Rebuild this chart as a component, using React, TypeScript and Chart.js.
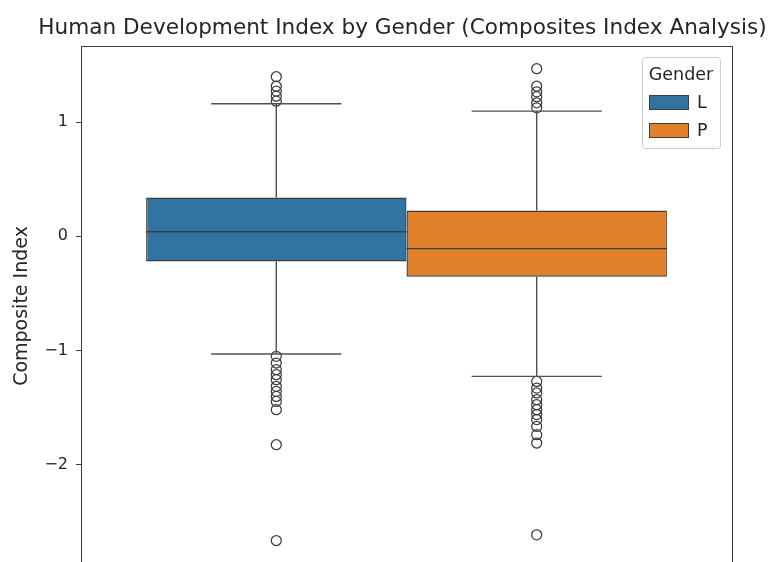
import React, { useEffect, useRef } from 'react';
import { Chart, registerables } from 'chart.js';

Chart.register(...registerables);

// ---- data ----
const chartTitle = 'Human Development Index by Gender (Composites Index Analysis)';
const yAxisLabel = 'Composite Index';
const legendTitle = 'Gender';
const genders = ['L', 'P'];
const boxColors = ['#3274a1', '#e1812c'];
const q1 = [-0.22, -0.353];
const median = [0.04, -0.108];
const q3 = [0.339, 0.225];
const whiskerLow = [-1.03, -1.226];
const whiskerHigh = [1.16, 1.095];
const outliersL = [1.396, 1.313, 1.27, 1.226, 1.182, -1.05, -1.109, -1.167, -1.211, -1.255, -1.313, -1.357, -1.401, -1.445, -1.517, -1.824, -2.662];
const outliersP = [1.466, 1.313, 1.264, 1.221, 1.168, 1.124, -1.27, -1.328, -1.371, -1.43, -1.474, -1.517, -1.56, -1.604, -1.664, -1.736, -1.809, -2.612];
const outliers = [outliersL, outliersP];
const yTicks = [-2, -1, 0, 1];
const yMin = -2.885;
const yMax = 1.665;

const FONT = 'DejaVu Sans';
const LINE = '#3d3d3d';
const TEXT = '#262626';

const fmt = (v: number) => (v < 0 ? '\u2212' + Math.abs(v) : String(v));

const overlay = {
  id: 'overlay',
  afterDraw(chart: any) {
    const { ctx, chartArea: a } = chart;
    ctx.save();
    // spines
    ctx.strokeStyle = LINE;
    ctx.lineWidth = 1;
    ctx.strokeRect(Math.round(a.left) + 0.5, Math.round(a.top) + 0.5, Math.round(a.right - a.left), Math.round(a.bottom - a.top));
    // title
    ctx.fillStyle = TEXT;
    ctx.font = `21.6px "${FONT}"`;
    ctx.textAlign = 'center';
    ctx.textBaseline = 'alphabetic';
    ctx.fillText(chartTitle, (a.left + a.right) / 2 - 4, 33.5);
    // legend
    const right = a.right - 12;
    const top = a.top + 11;
    const w = 78;
    const h = 91;
    const left = right - w;
    ctx.beginPath();
    ctx.roundRect(left + 0.5, top + 0.5, w, h, 3);
    ctx.fillStyle = 'rgba(255,255,255,0.8)';
    ctx.fill();
    ctx.strokeStyle = '#cccccc';
    ctx.lineWidth = 1;
    ctx.stroke();
    ctx.fillStyle = TEXT;
    ctx.font = `17.5px "${FONT}"`;
    ctx.textAlign = 'center';
    ctx.fillText(legendTitle, left + w / 2, top + 22.5);
    genders.forEach((g, i) => {
      const py = top + 38 + i * 28;
      ctx.fillStyle = boxColors[i];
      ctx.fillRect(left + 7, py, 40, 15);
      ctx.strokeStyle = LINE;
      ctx.lineWidth = 1;
      ctx.strokeRect(left + 7.5, py + 0.5, 39, 14);
      ctx.fillStyle = TEXT;
      ctx.textAlign = 'left';
      ctx.textBaseline = 'middle';
      ctx.fillText(g, left + 55, py + 8);
      ctx.textBaseline = 'alphabetic';
    });
    ctx.restore();
  },
};

export default function App() {
  const ref = useRef<HTMLCanvasElement | null>(null);
  useEffect(() => {
    document.body.style.margin = '0';
    document.body.style.overflow = 'hidden';
    Chart.defaults.font.family = FONT;
    const datasets: any[] = [];
    genders.forEach((g, i) => {
      const c = -0.2 + i * 0.4;
      datasets.push({
        type: 'line',
        label: g + ' median',
        xAxisID: 'x2',
        data: [
          { x: c - 0.2, y: median[i] },
          { x: c + 0.2, y: median[i] },
        ],
        borderColor: LINE,
        borderWidth: 1.4,
        pointRadius: 0,
        fill: false,
        order: 0,
      });
      datasets.push({
        type: 'line',
        label: g + ' whiskers',
        xAxisID: 'x2',
        data: [
          { x: c, y: q3[i] }, { x: c, y: whiskerHigh[i] }, { x: c, y: null },
          { x: c, y: q1[i] }, { x: c, y: whiskerLow[i] }, { x: c, y: null },
          { x: c - 0.1, y: whiskerHigh[i] }, { x: c + 0.1, y: whiskerHigh[i] }, { x: c, y: null },
          { x: c - 0.1, y: whiskerLow[i] }, { x: c + 0.1, y: whiskerLow[i] },
        ],
        borderColor: '#505050',
        borderWidth: 1.4,
        pointRadius: 0,
        fill: false,
        spanGaps: false,
        order: 1,
      });
      datasets.push({
        type: 'scatter',
        label: g + ' outliers',
        xAxisID: 'x2',
        data: outliers[i].map((v) => ({ x: c, y: v })),
        pointRadius: 5,
        pointBorderWidth: 1.25,
        pointBackgroundColor: 'rgba(0,0,0,0)',
        pointBorderColor: LINE,
        order: 1,
      });
    });
    genders.forEach((g, i) => {
      datasets.push({
        type: 'bar',
        label: g,
        xAxisID: 'x',
        data: [[q1[i], q3[i]]],
        backgroundColor: boxColors[i],
        borderColor: LINE,
        borderWidth: 1.4,
        borderSkipped: false,
        // a single category gives a ruler of half the axis width, so 0.8 of the axis = 1.6 here
        categoryPercentage: 1.6,
        barPercentage: 1.0,
        order: 2,
      });
    });

    const chart = new Chart(ref.current as HTMLCanvasElement, {
      type: 'bar',
      data: { labels: [''], datasets },
      options: {
        animation: false,
        responsive: false,
        devicePixelRatio: 1,
        events: [],
        layout: { padding: { left: 0, right: 44, top: 46, bottom: 34 } },
        plugins: { legend: { display: false }, tooltip: { enabled: false }, title: { display: false } },
        scales: {
          x: { type: 'category', display: false, offset: true },
          x2: { type: 'linear', axis: 'x', display: false, offset: false, min: -0.5, max: 0.5 },
          y: {
            type: 'linear',
            min: yMin,
            max: yMax,
            afterBuildTicks: (s: any) => {
              s.ticks = yTicks.map((v) => ({ value: v }));
            },
            afterFit: (s: any) => {
              s.width = 81;
            },
            ticks: {
              font: { family: FONT, size: 16 },
              color: TEXT,
              padding: 8,
              callback: (v: any) => fmt(Number(v)),
            },
            grid: { drawOnChartArea: false, drawTicks: true, tickLength: 5, tickColor: LINE, tickWidth: 1 },
            border: { display: true, color: LINE, width: 1 },
            title: {
              display: true,
              text: yAxisLabel,
              font: { family: FONT, size: 19 },
              color: TEXT,
              padding: { top: 11, bottom: 0 },
            },
          },
        },
      },
      plugins: [overlay],
    } as any);
    return () => chart.destroy();
  }, []);
  return (
    <div style={{ width: 776, height: 562, overflow: 'hidden', position: 'relative' }}>
      <canvas ref={ref} width={776} height={600} style={{ display: 'block' }} />
    </div>
  );
}
